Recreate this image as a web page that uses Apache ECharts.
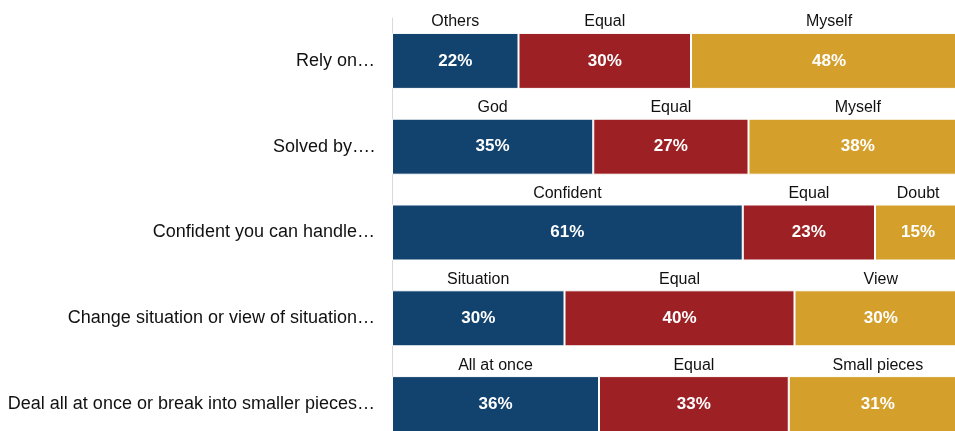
<!DOCTYPE html>
<html>
<head>
<meta charset="utf-8">
<script src="https://cdn.jsdelivr.net/npm/echarts@6/dist/echarts.min.js"></script>
<style>html,body{margin:0;padding:0;background:#fff}#c{width:955px;height:431px}</style>
</head>
<body>
<div id="c"></div>
<script>
const categories = [
  'Rely on…',
  'Solved by….',
  'Confident you can handle…',
  'Change situation or view of situation…',
  'Deal all at once or break into smaller pieces…'
];
const firstValues = [22, 35, 61, 30, 36];
const middleValues = [30, 27, 23, 40, 33];
const lastValues = [48, 38, 15, 30, 31];
const firstNames = ['Others', 'God', 'Confident', 'Situation', 'All at once'];
const middleNames = ['Equal', 'Equal', 'Equal', 'Equal', 'Equal'];
const lastNames = ['Myself', 'Myself', 'Doubt', 'View', 'Small pieces'];

const colors = ['#12436e', '#9d2124', '#d4a02b'];
const FONT = 'Liberation Sans, Arial, sans-serif';

function valueSeries(vals, color) {
  return {
    type: 'bar', stack: 'v', data: vals, barWidth: 56,
    itemStyle: { color: color, borderColor: '#ffffff', borderWidth: 1 },
    label: { show: true, position: 'inside', color: '#ffffff', fontWeight: 'bold',
             fontSize: 17, fontFamily: FONT, formatter: p => p.value + '%' },
    silent: true
  };
}
function nameSeries(vals, names) {
  return {
    type: 'bar', stack: 'n', data: vals, barWidth: 56, barGap: '-100%',
    itemStyle: { color: 'rgba(0,0,0,0)' },
    label: { show: true, position: 'top', distance: 3, color: '#111111',
             fontSize: 16, fontFamily: FONT, formatter: p => names[p.dataIndex] },
    silent: true
  };
}

const chart = echarts.init(document.getElementById('c'), null, { renderer: 'canvas' });
chart.setOption({
  animation: false,
  backgroundColor: '#ffffff',
  grid: { left: 392, top: 18, width: 575, height: 429, containLabel: false, outerBoundsMode: 'none' },
  xAxis: { type: 'value', min: 0, max: 100, show: false },
  yAxis: {
    type: 'category', data: categories, inverse: true,
    axisLine: { show: true, lineStyle: { color: '#d9d9d9', width: 1 } },
    axisTick: { show: false },
    axisLabel: { color: '#111111', fontSize: 18, fontFamily: FONT, margin: 17 }
  },
  series: [
    valueSeries(firstValues, colors[0]),
    valueSeries(middleValues, colors[1]),
    valueSeries(lastValues, colors[2]),
    nameSeries(firstValues, firstNames),
    nameSeries(middleValues, middleNames),
    nameSeries(lastValues, lastNames)
  ]
});
</script>
</body>
</html>
